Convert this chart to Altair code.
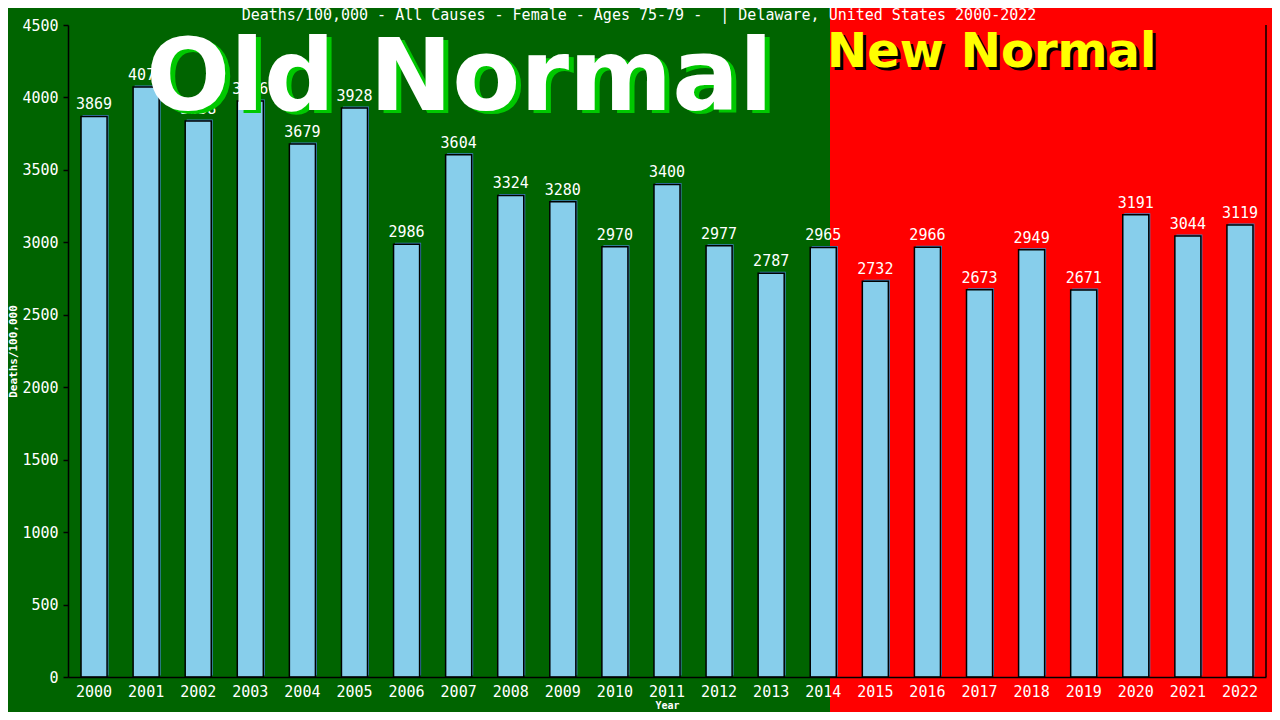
import altair as alt
import pandas as pd

years = [str(y) for y in range(2000, 2023)]
deaths = [3869, 4072, 3838, 3976, 3679, 3928, 2986, 3604, 3324, 3280, 2970, 3400,
          2977, 2787, 2965, 2732, 2966, 2673, 2949, 2671, 3191, 3044, 3119]

title_text = "Deaths/100,000 - All Causes - Female - Ages 75-79 -\u00a0 | Delaware, United States 2000-2022"
y_ticks = list(range(0, 4501, 500))

df = pd.DataFrame({"Year": years, "Deaths": deaths})
one = pd.DataFrame({"a": [0]})

W, H = 1198, 652
MONO = "DejaVu Sans Mono"

xscale = alt.Scale(paddingInner=0.5, paddingOuter=0.25)
yscale = alt.Scale(domain=[0, 4500], nice=False)

xenc = alt.X("Year:O", scale=xscale, title="Year",
             axis=alt.Axis(labelAngle=0, ticks=False, labelPadding=7, labelColor="white",
                           labelFont=MONO, labelFontSize=15, domainColor="black",
                           domainWidth=1.5, titleColor="white", titleFont=MONO,
                           titleFontSize=10, titleFontWeight="bold", titlePadding=1,
                           zindex=1))
yenc = alt.Y("Deaths:Q", scale=yscale, title="Deaths/100,000",
             axis=alt.Axis(values=y_ticks, format="d", grid=False, tickSize=5,
                           tickColor="black", tickWidth=1.5, labelPadding=5,
                           labelColor="white", labelFont=MONO, labelFontSize=15,
                           domainColor="black", domainWidth=1.5, titleColor="white",
                           titleFont=MONO, titleFontSize=11, titleFontWeight="bold",
                           titlePadding=3, zindex=1))

red_bg = alt.Chart(one).mark_rect(color="#ff0000").encode(
    x=alt.value(762), x2=alt.value(1204), y=alt.value(-17), y2=alt.value(687))

shadow = alt.Chart(df).mark_bar(color="#3f86c4", xOffset=1.5, yOffset=-1.5).encode(
    x=xenc, y=yenc)
bars = alt.Chart(df).mark_bar(color="#87ceeb", stroke="black", strokeWidth=1.5).encode(
    x=xenc, y=yenc)
labels = alt.Chart(df).mark_text(font=MONO, fontSize=15, color="white",
                                 baseline="alphabetic", dy=-7).encode(
    x=xenc, y=yenc, text=alt.Text("Deaths:Q", format="d"))

old_shadow = alt.Chart(one).mark_text(text="Old Normal", font="DejaVu Sans", fontWeight="bold",
                                      fontSize=99, color="#00c800", align="left",
                                      baseline="alphabetic").encode(
    x=alt.value(83), y=alt.value(88))
old_text = alt.Chart(one).mark_text(text="Old Normal", font="DejaVu Sans", fontWeight="bold",
                                    fontSize=99, color="white", align="left",
                                    baseline="alphabetic").encode(
    x=alt.value(78), y=alt.value(85))
new_shadow = alt.Chart(one).mark_text(text="New Normal", font="DejaVu Sans", fontWeight="bold",
                                      fontSize=48, color="black", align="left",
                                      baseline="alphabetic").encode(
    x=alt.value(762), y=alt.value(45))
new_text = alt.Chart(one).mark_text(text="New Normal", font="DejaVu Sans", fontWeight="bold",
                                    fontSize=48, color="#ffff00", align="left",
                                    baseline="alphabetic").encode(
    x=alt.value(759), y=alt.value(42))
title = alt.Chart(one).mark_text(text=title_text, font=MONO, fontSize=15, color="white",
                                 align="center", baseline="alphabetic").encode(
    x=alt.value(571), y=alt.value(-5))
right_rule = alt.Chart(one).mark_rule(color="black", strokeWidth=1.5).encode(
    x=alt.value(W), y=alt.value(0), y2=alt.value(H))

chart = alt.layer(red_bg, shadow, bars, labels, old_shadow, old_text, new_shadow, new_text,
                  title, right_rule).properties(
    width=W, height=H,
    background="#006400",
    padding={"left": 60, "top": 17, "right": 6, "bottom": 35},
    autosize=alt.AutoSizeParams(type="none"),
).configure_view(stroke=None)

chart.save("out.html", embed_options={"renderer": "svg", "actions": False})
